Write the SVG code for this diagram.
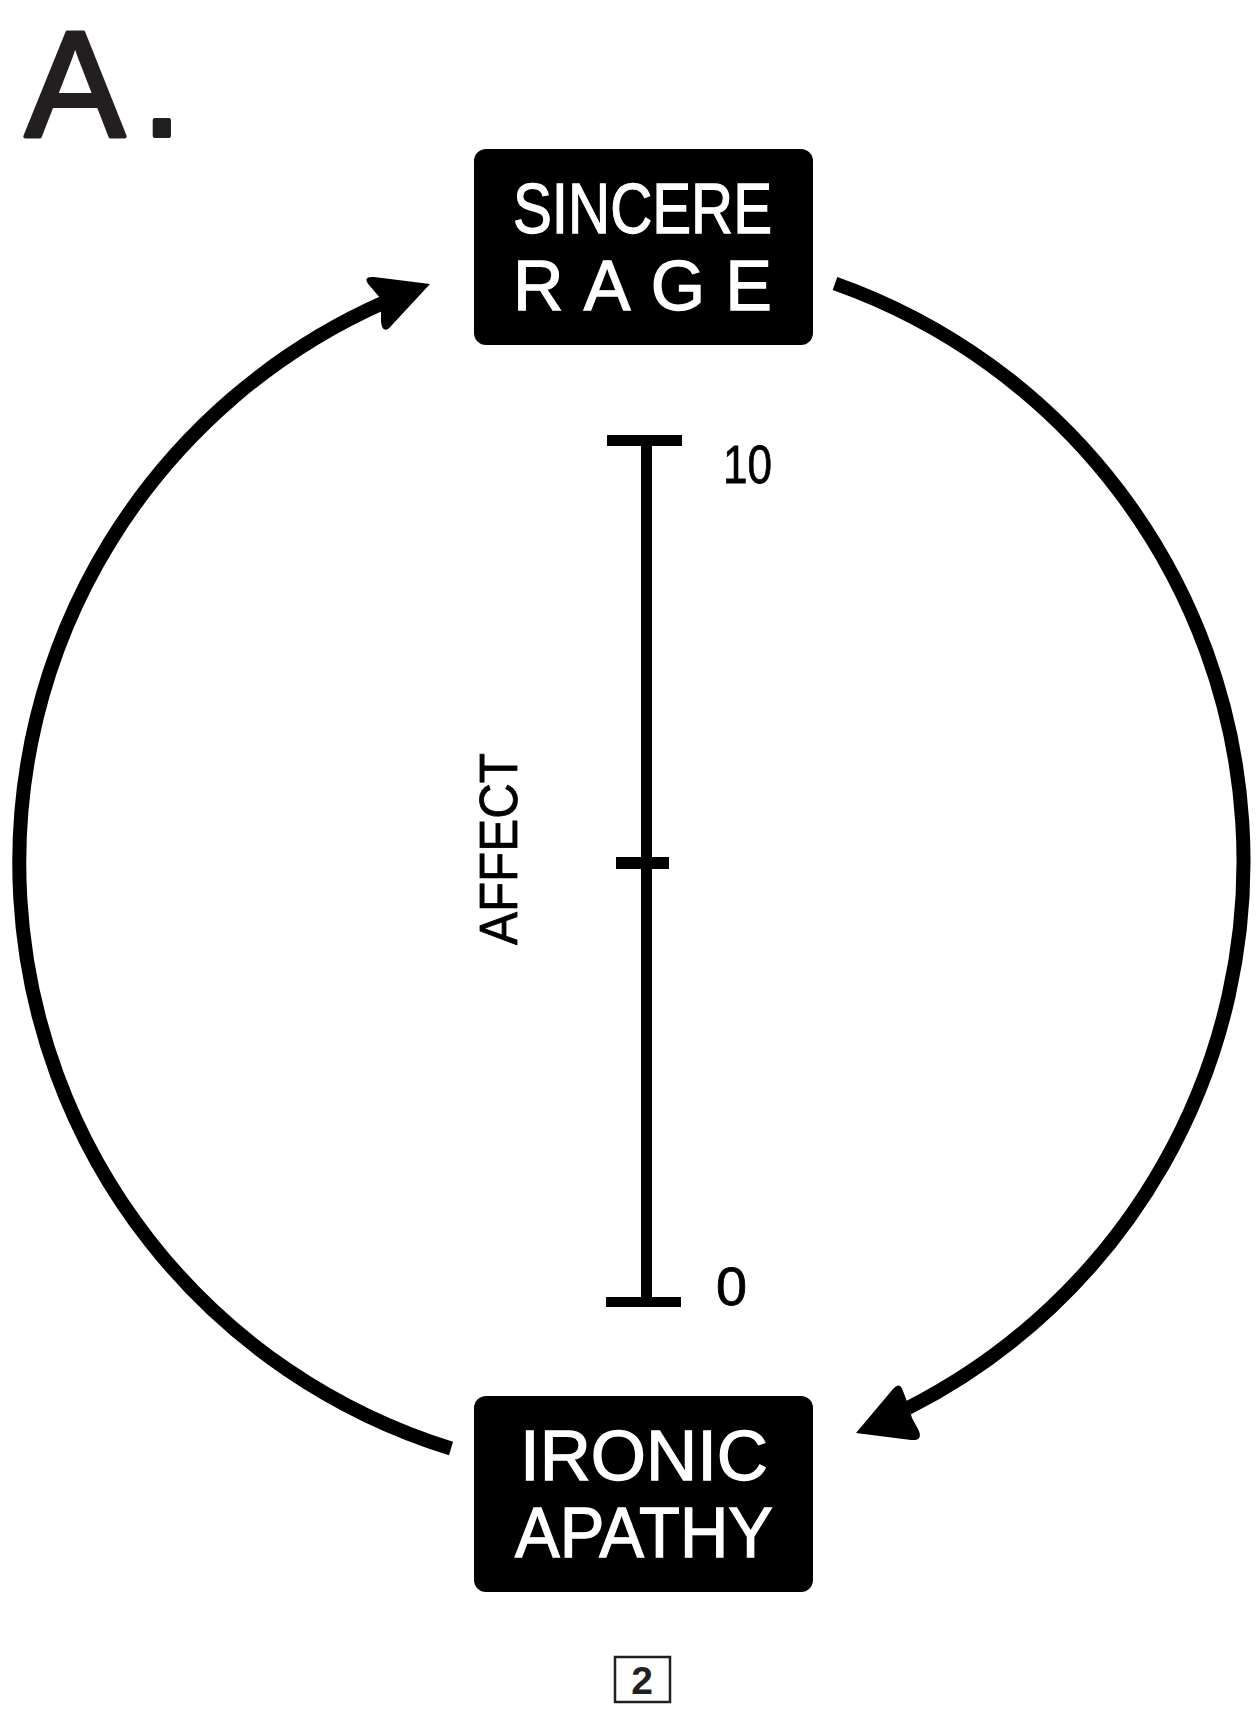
<svg xmlns="http://www.w3.org/2000/svg" width="1257" height="1714" viewBox="0 0 1257 1714">
<style>
.box{fill:#000}
.lbl{fill:#fff;stroke:#fff;stroke-width:1.3;font-family:"Liberation Sans",Arial,sans-serif;font-size:70px}
.num{fill:#000;stroke:#000;stroke-width:0.8;font-family:"Liberation Sans",Arial,sans-serif;font-size:53px}
.arc{fill:none;stroke:#000;stroke-width:14}
.head{fill:#000}
</style>
<rect width="1257" height="1714" fill="#fff"/>
<text x="25" y="136" font-family="Liberation Sans, Arial, sans-serif" font-size="150" fill="#231f20" stroke="#231f20" stroke-width="4" stroke-linejoin="round">A<tspan dx="16">.</tspan></text>
<g id="connectors">
<path class="arc" d="M835,283.5 A613,613 0 0 1 908,1408"/>
<path class="head" d="M856,1433 L893,1389 Q900,1381 903,1391 L908,1404 L912,1418 L918,1429 Q924,1441 911,1440 Z"/>
<path class="arc" d="M451,1448.5 A613,613 0 0 1 385,302"/>
<path class="head" d="M430,284 L374,277 Q362,276 369,285 L381,299 L381,322 Q383,336 392,325 Z"/>
</g>
<g id="node-sincere-rage">
<rect class="box" x="474" y="149" width="339" height="196" rx="12"/>
<text class="lbl" x="513" y="233" textLength="259" lengthAdjust="spacingAndGlyphs">SINCERE</text>
<text class="lbl" x="513" y="310" textLength="259" lengthAdjust="spacing">RAGE</text>
</g>
<g id="node-ironic-apathy">
<rect class="box" x="474" y="1396" width="339" height="196" rx="12"/>
<text class="lbl" x="520" y="1480" textLength="248" lengthAdjust="spacingAndGlyphs">IRONIC</text>
<text class="lbl" x="515" y="1557" textLength="258" lengthAdjust="spacingAndGlyphs">APATHY</text>
</g>
<g id="scale">
<rect x="641" y="435" width="11" height="872"/>
<rect x="607" y="435" width="75" height="11"/>
<rect x="606" y="1297" width="75" height="10"/>
<rect x="616" y="857" width="53" height="12"/>
<text class="num" x="723" y="483" textLength="49" lengthAdjust="spacingAndGlyphs">10</text>
<text class="num" x="716" y="1305" textLength="31" lengthAdjust="spacingAndGlyphs">0</text>
<text class="num" x="517" y="849" font-size="58" text-anchor="middle" textLength="192" lengthAdjust="spacingAndGlyphs" transform="rotate(-90 517 849)">AFFECT</text>
</g>
<g id="page-number">
<rect x="615" y="1657" width="55" height="45" fill="none" stroke="#231f20" stroke-width="2.5"/>
<text x="642" y="1694" text-anchor="middle" font-family="Liberation Sans, Arial, sans-serif" font-size="39" font-weight="bold" fill="#231f20">2</text>
</g>
</svg>
